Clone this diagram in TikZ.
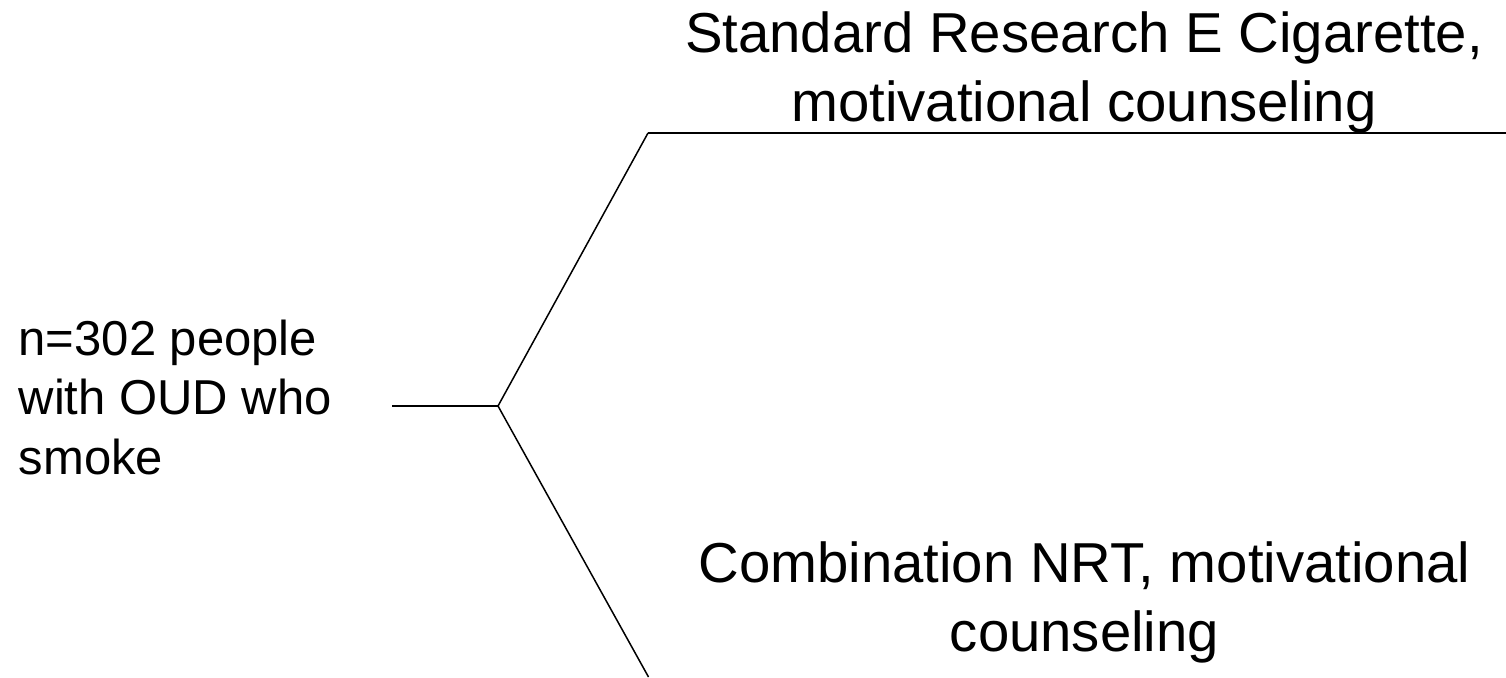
\documentclass[tikz,border=0pt]{standalone}
\usepackage{fontspec}
\setmainfont{Liberation Sans}
\begin{document}
\begin{tikzpicture}[x=1pt,y=-1pt,
  armtext/.style={inner sep=0pt,align=center,font=\fontsize{56.3pt}{69.4pt}\selectfont,anchor=base},
  srctext/.style={inner sep=0pt,align=left,font=\fontsize{49pt}{59.5pt}\selectfont,anchor=base west},
  hline/.style={line width=2pt,black},
  dline/.style={line width=1.5pt,black,line join=miter}]
\useasboundingbox (0,0) rectangle (1506,677);
\node[srctext] (src) at (18.5,474) {n=302 people\\with OUD who\\smoke};
\node[armtext] (armA) at (1084,121.7) {Standard Research E Cigarette,\\motivational counseling};
\node[armtext] (armB) at (1084.5,651.7) {Combination NRT, motivational\\counseling};
\coordinate (srcend) at (392,406);
\coordinate (hub) at (498,406);
\coordinate (upk) at (648,133);
\coordinate (upend) at (1506,133);
\coordinate (lowk) at (648.5,677);
\draw[hline] (srcend) -- (hub);
\draw[dline] (hub) -- (upk);
\draw[hline] (upk) -- (upend);
\draw[dline] (hub) -- (lowk);
\end{tikzpicture}
\end{document}
